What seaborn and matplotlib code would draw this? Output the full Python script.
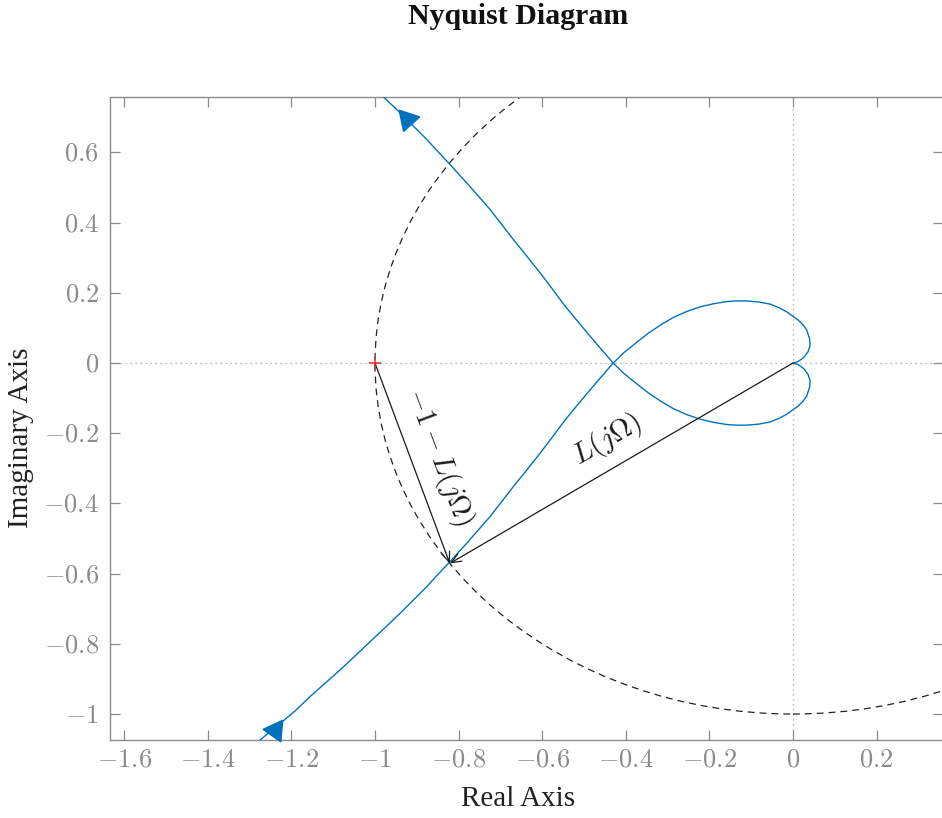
import numpy as np
import pandas as pd
import matplotlib
matplotlib.use("Agg")
import matplotlib.pyplot as plt
from matplotlib.patches import Circle
from matplotlib.ticker import FixedLocator, FuncFormatter
import seaborn as sns

# ---------------- data ----------------
# positive-frequency branch of L(jw): from the origin, round the upper loop,
# through the real-axis crossing, out to the lower left
pos_re = [0.0, 0.012, 0.026, 0.036, 0.041, 0.040, 0.033, 0.024, 0.013, -0.001,
          -0.015, -0.034, -0.055, -0.082, -0.111, -0.135, -0.159, -0.190, -0.222,
          -0.254, -0.286, -0.316, -0.346, -0.376, -0.406, -0.430, -0.462, -0.490,
          -0.518, -0.545, -0.575, -0.605, -0.637, -0.669, -0.697, -0.725, -0.753,
          -0.781, -0.823, -0.850, -0.876, -0.908, -0.940, -0.975, -1.012, -1.048,
          -1.084, -1.120, -1.156, -1.190, -1.227, -1.275, -1.300]
pos_im = [0.0, 0.004, 0.016, 0.032, 0.050, 0.068, 0.094, 0.109, 0.122, 0.134,
          0.146, 0.158, 0.168, 0.174, 0.177, 0.177, 0.175, 0.169, 0.160,
          0.147, 0.130, 0.109, 0.085, 0.057, 0.028, 0.0, -0.044, -0.083,
          -0.123, -0.162, -0.210, -0.257, -0.305, -0.352, -0.395, -0.438, -0.476,
          -0.514, -0.569, -0.603, -0.637, -0.675, -0.713, -0.753, -0.794, -0.835,
          -0.875, -0.913, -0.951, -0.990, -1.027, -1.074, -1.100]

# point where |L| = 1 on the curve, and critical point
point_re, point_im = -0.821, -0.571
crit_re, crit_im = -1.0, 0.0

# direction arrows on the curve (centre x, centre y, rotation deg)
arrow_x = [-0.924, -1.240]
arrow_y = [0.696, -1.046]
arrow_rot = [42, 85]

x_ticks = [-1.6, -1.4, -1.2, -1.0, -0.8, -0.6, -0.4, -0.2, 0.0, 0.2]
y_ticks = [-1.0, -0.8, -0.6, -0.4, -0.2, 0.0, 0.2, 0.4, 0.6]
x_lim = (-1.634, 0.359)
y_lim = (-1.074, 0.758)

title = "Nyquist Diagram"
x_label = "Real Axis"
y_label = "Imaginary Axis"

# ---------------- style ----------------
sns.set_theme(style="white")
plt.rcParams["mathtext.fontset"] = "cm"
plt.rcParams["font.family"] = ["Liberation Serif", "DejaVu Serif"]

BLUE = "#0072BD"
GRAY = "#8a8a8a"
SPINE = "#8c8c8c"

fig = plt.figure(figsize=(9.42, 8.18), dpi=100)
ax = fig.add_axes([110 / 942, 1 - 740 / 818, (943 - 110) / 942, (740 - 97) / 818])

# zero lines
ax.axhline(0, color="#a0a0a0", lw=0.9, ls=(0, (1, 3)), zorder=1)
ax.axvline(0, color="#a0a0a0", lw=0.9, ls=(0, (1, 3)), zorder=1)

# unit circle
ax.add_patch(Circle((0, 0), 1.0, fill=False, ec="#222222", lw=0.9,
                    ls=(0, (5.5, 4)), zorder=2))

# Nyquist curve (both branches)
df = pd.DataFrame({
    "re": pos_re + pos_re,
    "im": pos_im + [-v for v in pos_im],
    "branch": ["pos"] * len(pos_re) + ["neg"] * len(pos_re),
})
sns.lineplot(data=df, x="re", y="im", units="branch", estimator=None, sort=False,
             color=BLUE, lw=1.0, ax=ax, zorder=3, legend=False)

# arrows on curve
for xa, ya, ra in zip(arrow_x, arrow_y, arrow_rot):
    ax.plot([xa], [ya], marker=(3, 0, ra), ms=18, color=BLUE, mec=BLUE,
            ls="none", zorder=4, clip_on=False)

# vectors
ap = dict(arrowstyle="->,head_length=0.6,head_width=0.25", color="#1a1a1a",
          lw=0.9, shrinkA=0, shrinkB=0)
ax.annotate("", xy=(point_re, point_im), xytext=(0, 0), arrowprops=ap, zorder=5)
ax.annotate("", xy=(point_re, point_im), xytext=(crit_re, crit_im), arrowprops=ap,
            zorder=5)

# critical point
ax.plot([crit_re], [crit_im], marker="+", ms=9, mew=1.1, color="#e0282e",
        ls="none", zorder=6)

# labels on vectors
ax.text(-0.446, -0.219, r"$L(j\Omega)$", fontsize=21, rotation=30.2,
        rotation_mode="anchor", ha="center", va="center", color="#1a1a1a")
ax.text(-0.848, -0.267, r"$-1-L(j\Omega)$", fontsize=21, rotation=-69.4,
        rotation_mode="anchor", ha="center", va="center", color="#1a1a1a")

# axes
ax.set_xlim(*x_lim)
ax.set_ylim(*y_lim)
ax.xaxis.set_major_locator(FixedLocator(x_ticks))
ax.yaxis.set_major_locator(FixedLocator(y_ticks))
fmt = FuncFormatter(lambda v, p: "$%s$" % ("%g" % round(v, 1)).replace("-0.0", "0"))
ax.xaxis.set_major_formatter(fmt)
ax.yaxis.set_major_formatter(fmt)
ax.tick_params(axis="both", which="major", direction="in", length=7, width=0.9,
               color=SPINE, labelcolor=GRAY, labelsize=19,
               top=True, right=True, bottom=True, left=True)
ax.tick_params(axis="x", pad=7)
ax.tick_params(axis="y", pad=8)
for s in ax.spines.values():
    s.set_color(SPINE)
    s.set_linewidth(1.0)
    s.set_visible(True)

ax.set_xlabel(x_label, fontsize=21, color="#222222")
ax.set_ylabel(y_label, fontsize=21, color="#222222")
ax.xaxis.set_label_coords((518 - 110) / 833, (740 - 799) / 643)
ax.xaxis.label.set_va("center")
ax.yaxis.set_label_coords((21 - 110) / 833, (740 - 438) / 643)
ax.yaxis.label.set_va("center")

fig.text(518 / 942, 1 - 17 / 818, title, ha="center", va="center",
         fontsize=21.5, fontweight="bold", color="#111111")

fig.savefig("out.png", dpi=100)
